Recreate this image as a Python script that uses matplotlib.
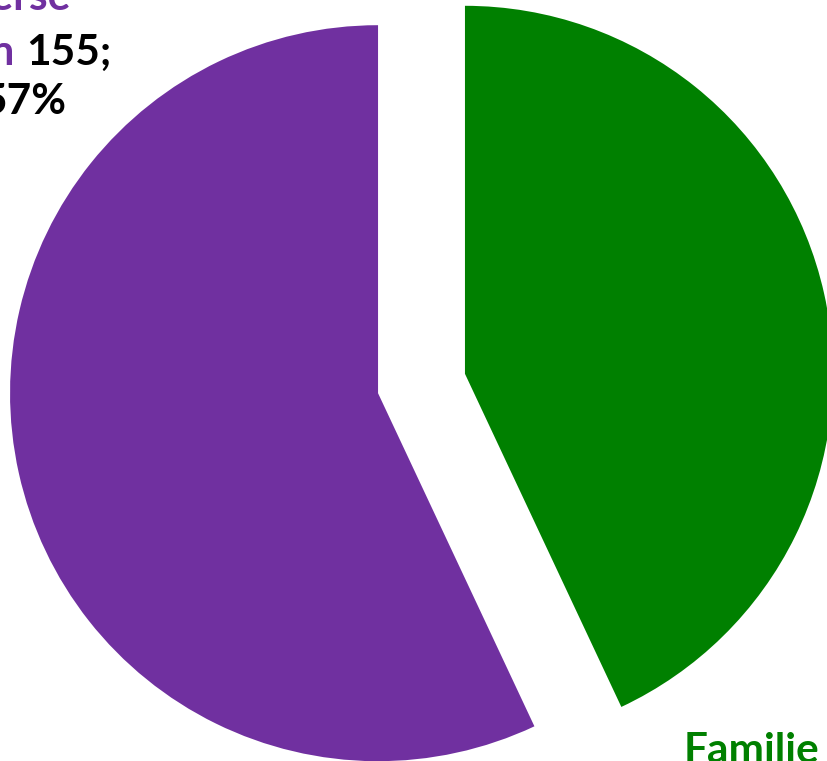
import matplotlib
matplotlib.use("Agg")
import matplotlib.pyplot as plt

categories = ["Familie", "Diverse personen"]
values = [117, 155]
percents = ["43%", "57%"]
colors = ["#008000", "#7030A0"]

W, H = 827, 761
fig = plt.figure(figsize=(W / 100, H / 100), dpi=100)
ax = fig.add_axes([0, 0, 1, 1])

r_px = 368.0
cx, cy = 421.5, 383.5  # pie centre in pixels (from top)
ax.pie(values, colors=colors, startangle=90, counterclock=False,
       explode=[0.121, 0.121], radius=1.0,
       wedgeprops=dict(linewidth=0))
ax.set_xlim(-cx / r_px, (W - cx) / r_px)
ax.set_ylim(-(H - cy) / r_px, cy / r_px)
ax.set_aspect("auto")
ax.axis("off")

font = dict(family=["Lato", "DejaVu Sans"], fontweight="bold", fontsize=30.5)

def fx(x):
    return x / W

def fy(y):
    return 1 - y / H

# Purple label (top-left, mostly outside the canvas)
fig.text(fx(71), fy(10), "Diverse", color=colors[1], ha="right", va="baseline", **font)
fig.text(fx(15), fy(65), "personen", color=colors[1], ha="right", va="baseline", **font)
fig.text(fx(26), fy(65), f"{values[1]};", color="black", ha="left", va="baseline", **font)
fig.text(fx(66), fy(114), percents[1], color="black", ha="right", va="baseline", **font)

# Green label (bottom-right, mostly outside the canvas)
fig.text(fx(684), fy(763), categories[0], color=colors[0], ha="left", va="baseline", **font)
fig.text(fx(684), fy(815), f"{values[0]}; {percents[0]}", color="black", ha="left", va="baseline", **font)

fig.savefig("out.png", dpi=100)
